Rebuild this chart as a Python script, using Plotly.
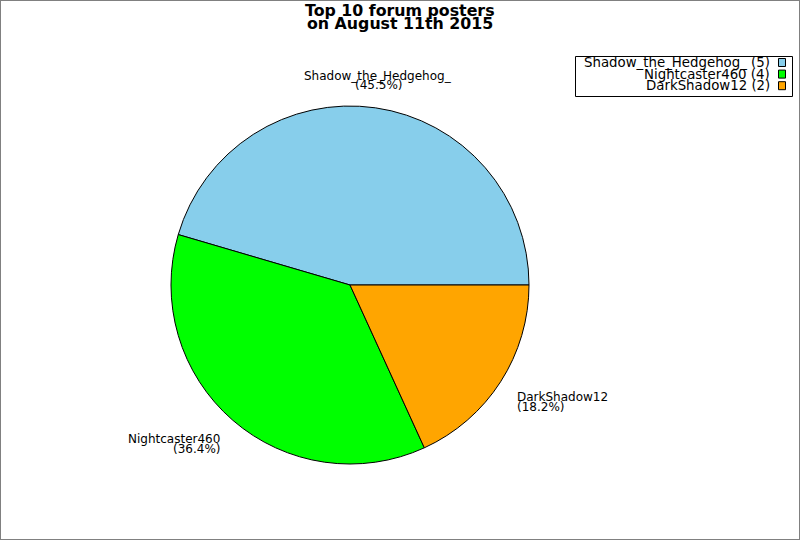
import math
import plotly.graph_objects as go

# ---- data ----
names = ["Shadow_the_Hedgehog_", "Nightcaster460", "DarkShadow12"]
posts = [5, 4, 2]
colors = ["#87CEEB", "#00FF00", "#FFA500"]
title_lines = ["Top 10 forum posters", "on August 11th 2015"]

# ---- layout constants (pixels) ----
W, H = 800, 540
CX, CY, R = 350, 285, 179
LABEL_R = 197
FONT = "DejaVu Sans, Liberation Sans, sans-serif"

def px_x(x):
    return x / W

def px_y(y):
    return 1 - y / H

total = sum(posts)
# plotly (counterclockwise) places the first slice just clockwise of `rotation`;
# we want the first slice to start at 3 o'clock and run counterclockwise.
rotation = 90 - 360.0 * posts[0] / total

fig = go.Figure(go.Pie(
    labels=names,
    values=posts,
    sort=False,
    direction="counterclockwise",
    rotation=rotation,
    marker=dict(colors=colors, line=dict(color="black", width=1)),
    textinfo="none",
    domain=dict(x=[px_x(CX - R), px_x(CX + R)], y=[px_y(CY + R), px_y(CY - R)]),
    showlegend=False,
))

annotations = []
shapes = []

# slice labels
start = 0.0
for name, v in zip(names, posts):
    frac = v / total
    mid = (start + frac / 2) * 2 * math.pi
    start += frac
    c, s = math.cos(mid), math.sin(mid)
    lx = CX + LABEL_R * c
    ly = CY - LABEL_R * s
    if abs(c) < 0.2:
        xa = "center"
    elif c > 0:
        xa = "left"
    else:
        xa = "right"
    if s > 0:
        y_name, y_pct = ly - 14, ly - 5.5
    else:
        y_name, y_pct = ly + 5.5, ly + 15.5
    for txt, yy in ((name, y_name), ("(%.1f%%)" % (frac * 100), y_pct)):
        annotations.append(dict(
            x=px_x(lx), y=px_y(yy), xref="paper", yref="paper",
            text=txt, showarrow=False, xanchor=xa, yanchor="middle",
            align=xa if xa != "center" else "center",
            font=dict(family=FONT, size=12, color="black"),
            borderpad=0,
        ))

# title
for i, t in enumerate(title_lines):
    annotations.append(dict(
        x=0.5, y=px_y(10.2 + 13.2 * i), xref="paper", yref="paper",
        text="<b>%s</b>" % t, showarrow=False, xanchor="center", yanchor="middle",
        font=dict(family=FONT, size=15.8, color="black"), borderpad=0,
    ))

# custom legend (text right-aligned, swatch on the right)
shapes.append(dict(type="rect", xref="paper", yref="paper",
                   x0=px_x(575.5), x1=px_x(792.5), y0=px_y(96.5), y1=px_y(56.5),
                   line=dict(color="black", width=1), fillcolor="white", layer="above"))
for i, (name, v, col) in enumerate(zip(names, posts, colors)):
    yc = 62.5 + 11.6 * i
    annotations.append(dict(
        x=px_x(771), y=px_y(yc), xref="paper", yref="paper",
        text="%s (%d)" % (name, v), showarrow=False, xanchor="right", yanchor="middle",
        font=dict(family=FONT, size=13.33, color="black"), borderpad=0,
    ))
    shapes.append(dict(type="rect", xref="paper", yref="paper",
                       x0=px_x(778.5), x1=px_x(785.5), y0=px_y(yc + 4), y1=px_y(yc - 4),
                       line=dict(color="black", width=1), fillcolor=col, layer="above"))

# outer frame
shapes.append(dict(type="rect", xref="paper", yref="paper", x0=0, x1=1, y0=0, y1=1,
                   line=dict(color="#808080", width=2), layer="above"))

fig.update_layout(
    width=W, height=H,
    margin=dict(l=0, r=0, t=0, b=0),
    paper_bgcolor="white", plot_bgcolor="white",
    annotations=annotations, shapes=shapes,
    font=dict(family=FONT),
)

fig.write_html(
    "out.html",
    config={"displayModeBar": False},
    post_script="document.body.style.margin='0';document.body.style.overflow='hidden';",
)
